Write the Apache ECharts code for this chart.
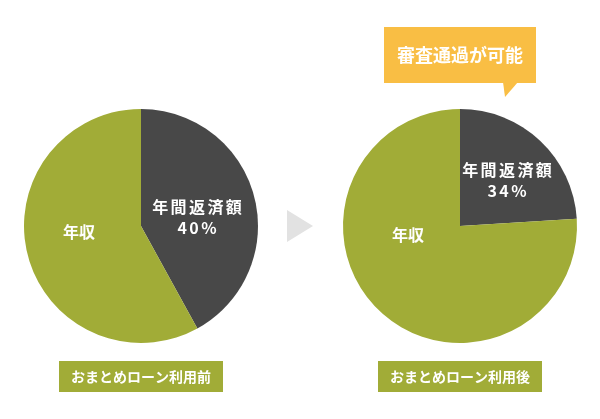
<!DOCTYPE html>
<html><head><meta charset="utf-8">
<script src="https://cdn.jsdelivr.net/npm/echarts@6/dist/echarts.min.js"></script>
<style>html,body{margin:0;padding:0;background:#fff}#c{width:600px;height:419px}</style>
</head><body><div id="c"></div>
<script>
// Data
const captions = ['おまとめローン利用前', 'おまとめローン利用後'];
const sliceNames = ['年間返済額', '年収'];
const debtPrinted = ['40%', '34%'];      // percentages printed on the slices
const debtShareDrawn = [42, 24];         // share of the dark slice as drawn
const incomeShareDrawn = [58, 76];       // share of the green slice as drawn
const calloutText = '審査通過が可能';

const GREEN = '#a1ac37', DARK = '#484848', ORANGE = '#f9be44';
const FONT = '"Noto Sans CJK JP", "Noto Sans", sans-serif';
const centers = [[141, 226], [460, 226]];
const R = 117;
const debtLabelPos = [[197, 217], [507, 180]];
const incomeLabelPos = [[79, 232], [408, 235]];

function spaced(str) {
  return str.split('').map(c => '{s|' + c + '}').join('');
}

const chart = echarts.init(document.getElementById('c'), null, {renderer: 'canvas'});

const series = captions.map((cap, i) => ({
  type: 'pie',
  name: cap,
  center: centers[i],
  radius: [0, R],
  startAngle: 90,
  clockwise: true,
  silent: true,
  animation: false,
  labelLine: {show: false},
  emphasis: {disabled: true},
  data: [
    {name: sliceNames[0], value: debtShareDrawn[i], itemStyle: {color: DARK},
     label: {show: true, position: 'inside',
             formatter: spaced(sliceNames[0]) + '\n' + spaced(debtPrinted[i]),
             color: '#fff', fontSize: 16, fontWeight: 'bold', fontFamily: FONT, lineHeight: 21,
             rich: {s: {color: '#fff', fontSize: 16, fontWeight: 'bold', fontFamily: FONT,
                        lineHeight: 21, padding: [0, 1.2]}}}},
    {name: sliceNames[1], value: incomeShareDrawn[i], itemStyle: {color: GREEN},
     label: {show: true, position: 'inside', formatter: sliceNames[1],
             color: '#fff', fontSize: 16, fontWeight: 'bold', fontFamily: FONT}}
  ],
  labelLayout: function (p) {
    const pos = p.dataIndex === 0 ? debtLabelPos[i] : incomeLabelPos[i];
    return {x: pos[0], y: pos[1], align: 'center', verticalAlign: 'middle'};
  }
}));

const graphics = [];
captions.forEach((cap, i) => {
  const cx = centers[i][0];
  graphics.push({type: 'rect', shape: {x: cx - 82, y: 361, width: 164, height: 31},
    style: {fill: GREEN}, silent: true});
  graphics.push({type: 'text', x: cx, y: 377,
    style: {text: cap, fill: '#fff', fontSize: 14, fontWeight: 'bold', fontFamily: FONT,
            align: 'center', verticalAlign: 'middle'}, silent: true});
});
// arrow between the pies
graphics.push({type: 'polygon', shape: {points: [[287, 210], [313, 226], [287, 242]]},
  style: {fill: '#e2e2e2'}, silent: true});
// callout
graphics.push({type: 'rect', shape: {x: 384, y: 27, width: 152, height: 56},
  style: {fill: ORANGE}, silent: true});
graphics.push({type: 'polygon', shape: {points: [[503, 82], [518, 82], [505, 97]]},
  style: {fill: ORANGE}, silent: true});
graphics.push({type: 'text', x: 460, y: 55,
  style: {text: calloutText, fill: '#fff', fontSize: 18, fontWeight: 'bold', fontFamily: FONT,
          align: 'center', verticalAlign: 'middle'}, silent: true});

chart.setOption({
  backgroundColor: '#fff',
  animation: false,
  series: series,
  graphic: graphics
});
</script></body></html>
